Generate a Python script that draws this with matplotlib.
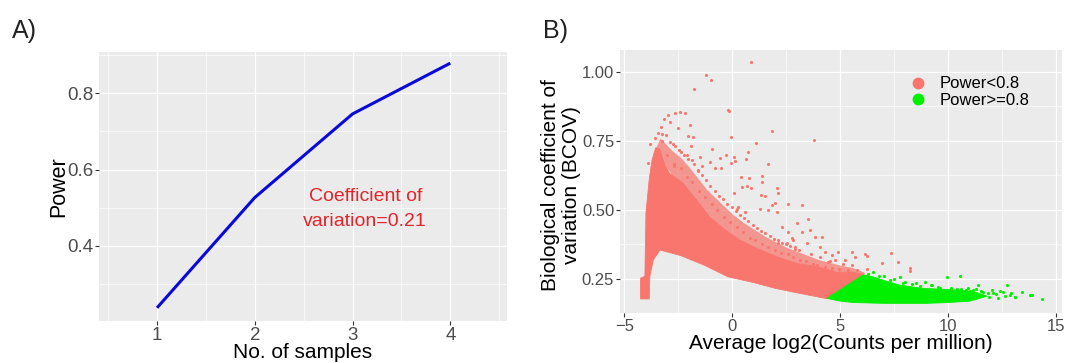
import matplotlib.pyplot as plt
from matplotlib.lines import Line2D
from matplotlib.ticker import MultipleLocator

plt.rcParams['font.family'] = ['Liberation Sans', 'DejaVu Sans']

# ---- panel A: power curve ----
n_samples = [1, 2, 3, 4]
power = [0.238, 0.527, 0.746, 0.879]

# ---- panel B: BCOV vs average log2 CPM ----
# solid part of the Power<0.8 cloud (outline)
low_cloud_x = [-4.25, -4.25, -4.05, -4.0, -3.85, -3.72, -3.55, -3.35, -3.1, -2.9,
               -2.27, -1.65, -1.04, -0.42, 0.35, 1.13, 2.05, 2.98, 3.90, 4.83,
               5.5, 6.1, 4.37, 3.0, 2.0, 1.0, -0.2, -1.3, -2.4, -3.35, -3.66,
               -3.82, -3.85]
low_cloud_y = [0.178, 0.253, 0.26, 0.49, 0.61, 0.68, 0.725, 0.72, 0.66, 0.632,
               0.596, 0.536, 0.475, 0.433, 0.391, 0.361, 0.331, 0.307, 0.295, 0.275,
               0.275, 0.267, 0.179, 0.200, 0.216, 0.237, 0.258, 0.30, 0.335, 0.355,
               0.319, 0.26, 0.178]

# looser, speckled band on top of the solid cloud (top edge, left to right)
band_x = [-3.55, -3.35, -3.1, -2.8, -2.4, -2.0, -1.6, -1.2, -0.8, -0.4, 0.0,
          0.5, 1.0, 1.5, 2.0, 2.5, 3.0, 3.5, 4.0, 4.5, 5.0, 5.5, 6.1]
band_top = [0.725, 0.76, 0.74, 0.715, 0.69, 0.655, 0.615, 0.575, 0.545, 0.515,
            0.485, 0.455, 0.43, 0.405, 0.385, 0.365, 0.35, 0.335, 0.32, 0.31,
            0.30, 0.293, 0.275]
band_base = [0.725, 0.72, 0.66, 0.627, 0.603, 0.57, 0.531, 0.491, 0.458, 0.432,
             0.41, 0.385, 0.366, 0.348, 0.333, 0.319, 0.307, 0.301, 0.293, 0.282,
             0.275, 0.275, 0.267]

# solid part of the Power>=0.8 cloud (outline)
high_cloud_x = [4.37, 5.0, 5.6, 7.0, 9.0, 10.0, 11.0, 11.8, 11.15, 10.07, 8.84,
                7.76, 7.0, 6.6, 6.06]
high_cloud_y = [0.180, 0.170, 0.165, 0.162, 0.162, 0.165, 0.170, 0.188, 0.205,
                0.212, 0.216, 0.228, 0.245, 0.256, 0.265]

# loose genes, Power<0.8
low_pts_x = [-1.22, -1.00, -1.78, -2.66, -2.43, -2.19, -2.89, -1.96, -2.52, -2.06,
             -1.82, -1.92, -0.94, -1.50, -1.04, -0.57, -0.53, -0.81, -0.20,
             0.86, -0.16, 1.82, -0.08, 3.78, 1.08, 0.72, -0.31, 0.07, 0.12,
             -0.06, 0.63, 1.63, 0.40, 0.77, 1.36, 1.38, 0.66, 0.86, 2.05, 0.43,
             2.10, 0.09, 1.32, 1.51, 2.59, 3.24, 1.82, 1.97, 1.66, 2.05, 1.28,
             0.27, 0.20, 0.58, 2.98, 3.51, 3.59, 2.59, 3.21, 3.82, 4.13, 2.75,
             2.13, 2.51, 2.90, 3.44, 4.06, 4.29, 4.60, 4.90, 5.52, 5.21, 4.44,
             4.75, 6.14, 6.22, 7.33, 6.91, 7.68, 8.22, 8.22, 5.68, 5.75, 6.22,
             -3.6, -3.45, -3.3, -3.15, -3.0, -3.25, -2.75, -2.4, -2.7, -1.6,
             -1.4, -2.1, -1.85, 2.8, 2.3, -3.8, -3.9,
             -3.24, -3.09, -2.91, -2.66, -2.45, -2.26, -2.05, -1.79, -1.59, -1.40,
             -1.21, -1.02, -0.82, -0.63, -0.43, -0.24, -0.04, 0.16, 0.35, 0.55,
             0.74, 0.94, 1.13, 1.33, 1.52, 1.72, 1.91, 2.11, 2.30, 2.50, 2.69,
             2.89, 3.08, 3.62, 4.05, 4.52, 5.12, 5.55,
             -3.03, -2.71, -2.39, -2.12, -1.86, -1.53, -1.27, -0.95, -0.69, -0.37,
             -0.11, 0.22, 0.48, 0.81, 1.07, 1.39, 1.65, 1.98, 2.24, 2.56, 2.82,
             3.15, 3.41, 3.71, 3.93, 4.27, 4.63, 4.95, 5.33]
low_pts_y = [0.988, 0.970, 0.937, 0.851, 0.854, 0.851, 0.818, 0.807, 0.796, 0.767,
             0.764, 0.731, 0.720, 0.691, 0.673, 0.688, 0.652, 0.652, 0.861,
             1.036, 0.858, 0.785, 0.765, 0.753, 0.743, 0.711, 0.699, 0.692, 0.677,
             0.670, 0.683, 0.666, 0.620, 0.614, 0.623, 0.601, 0.586, 0.579, 0.578,
             0.582, 0.562, 0.560, 0.554, 0.550, 0.520, 0.518, 0.518, 0.524, 0.500,
             0.493, 0.502, 0.512, 0.502, 0.493, 0.452, 0.466, 0.427, 0.421, 0.421,
             0.403, 0.401, 0.397, 0.379, 0.379, 0.367, 0.379, 0.367, 0.349, 0.337,
             0.349, 0.349, 0.319, 0.313, 0.319, 0.340, 0.333, 0.345, 0.307, 0.310,
             0.289, 0.280, 0.329, 0.283, 0.285,
             0.76, 0.78, 0.80, 0.83, 0.845, 0.75, 0.74, 0.71, 0.66, 0.64,
             0.66, 0.70, 0.68, 0.39, 0.44, 0.74, 0.67,
             0.775, 0.77, 0.745, 0.73, 0.715, 0.70, 0.685, 0.665, 0.645, 0.625,
             0.61, 0.585, 0.57, 0.55, 0.54, 0.52, 0.51, 0.495, 0.48, 0.47,
             0.46, 0.445, 0.435, 0.425, 0.415, 0.405, 0.395, 0.39, 0.38, 0.375,
             0.37, 0.36, 0.355, 0.34, 0.33, 0.315, 0.305, 0.30,
             0.70, 0.665, 0.65, 0.62, 0.60, 0.57, 0.545, 0.52, 0.50, 0.475,
             0.455, 0.44, 0.42, 0.40, 0.39, 0.375, 0.365, 0.355, 0.345, 0.34,
             0.33, 0.32, 0.315, 0.305, 0.30, 0.295, 0.29, 0.285, 0.283]

# loose genes, Power>=0.8
high_pts_x = [7.76, 8.92, 9.92, 10.54, 11.38, 12.70, 13.39, 13.86, 14.32, 11.61,
              11.85, 12.08, 12.54, 12.85, 13.08, 13.78, 9.23, 9.61, 10.92, 11.15,
              6.5, 7.0, 7.5, 8.0, 8.5, 9.2, 10.4, 10.8, 11.3, 12.0, 12.2, 12.4,
              12.6, 12.9, 13.1, 11.9, 12.3, 6.3, 6.8, 7.3, 7.9, 8.3, 8.7, 9.5,
              10.1, 10.6, 11.0, 11.5]
high_pts_y = [0.258, 0.240, 0.258, 0.261, 0.228, 0.228, 0.204, 0.192, 0.178, 0.204,
              0.198, 0.200, 0.204, 0.192, 0.186, 0.192, 0.228, 0.216, 0.216, 0.210,
              0.275, 0.26, 0.25, 0.24, 0.235, 0.228, 0.215, 0.21, 0.215, 0.21,
              0.195, 0.205, 0.19, 0.20, 0.185, 0.185, 0.183, 0.27, 0.262, 0.248,
              0.236, 0.232, 0.226, 0.222, 0.218, 0.214, 0.208, 0.205]

SALMON = '#F8766D'
GREEN = '#00F000'


def gg_style(ax, tick_fs):
    ax.set_facecolor('#EBEBEB')
    for s in ax.spines.values():
        s.set_visible(False)
    ax.grid(which='major', color='white', lw=0.9)
    ax.grid(which='minor', color='white', lw=0.45)
    ax.set_axisbelow(True)
    ax.tick_params(which='major', length=2.75, width=0.8, color='#333333',
                   labelcolor='#4D4D4D', labelsize=tick_fs, pad=1.5)
    ax.tick_params(which='minor', length=0)


fig = plt.figure(figsize=(10.65, 3.63), dpi=100)

# ---------- A ----------
axA = fig.add_axes([0.093, 0.1157, 0.3828, 0.7419])
gg_style(axA, 13.5)
axA.plot(n_samples, power, color='#0A0AD8', lw=2.2, solid_capstyle='butt')
axA.set_xlim(0.407, 4.577)
axA.set_ylim(0.2035, 0.909)
axA.set_xticks([1, 2, 3, 4])
axA.set_yticks([0.4, 0.6, 0.8])
axA.xaxis.set_minor_locator(MultipleLocator(0.5))
axA.yaxis.set_minor_locator(MultipleLocator(0.1))
axA.text(3.13, 0.497, 'Coefficient of\nvariation=0.21', color='#E3242B',
         fontsize=14, ha='center', va='center', linespacing=1.6)
axA.set_xlabel('No. of samples', fontsize=15, color='black')
axA.xaxis.set_label_coords(0.5, -0.118)
axA.xaxis.label.set_va('center')
axA.set_ylabel('Power', fontsize=15.5, color='black')
axA.yaxis.set_label_coords(-0.10, 0.5)
axA.yaxis.label.set_va('center')
fig.text(0.011, 0.915, 'A)', fontsize=18, color='#222222', va='center')

# ---------- B ----------
axB = fig.add_axes([0.5822, 0.1369, 0.415, 0.7253])
gg_style(axB, 12)
axB.fill_between(band_x, band_base, band_top, color=SALMON, alpha=0.72, lw=0)
axB.fill(low_cloud_x, low_cloud_y, color=SALMON, lw=0.6, ec=SALMON)
axB.scatter(low_pts_x, low_pts_y, s=5, color=SALMON, lw=0)
axB.fill(high_cloud_x, high_cloud_y, color=GREEN, lw=0.6, ec=GREEN)
axB.scatter(high_pts_x, high_pts_y, s=5, color=GREEN, lw=0)
axB.set_xlim(-5.2, 15.26)
axB.set_ylim(0.126, 1.0785)
axB.set_xticks([-5, 0, 5, 10, 15])
axB.set_yticks([0.25, 0.5, 0.75, 1.0])
axB.set_yticklabels(['0.25', '0.50', '0.75', '1.00'])
axB.xaxis.set_minor_locator(MultipleLocator(2.5))
axB.yaxis.set_minor_locator(MultipleLocator(0.125))
axB.set_xlabel('Average log2(Counts per million)', fontsize=15, color='black')
axB.xaxis.set_label_coords(0.5, -0.113)
axB.xaxis.label.set_va('center')
axB.set_ylabel('Biological coefficient of\nvariation (BCOV)', fontsize=15,
               color='black', linespacing=1.15)
axB.yaxis.set_label_coords(-0.1335, 0.487)
axB.yaxis.label.set_va('center')
handles = [Line2D([], [], ls='', marker='o', ms=7.5, color=SALMON),
           Line2D([], [], ls='', marker='o', ms=7.5, color=GREEN)]
axB.legend(handles, ['Power<0.8', 'Power>=0.8'], loc='upper left',
           bbox_to_anchor=(0.655, 0.90), frameon=False, fontsize=12,
           handlelength=1.0, handletextpad=0.8, labelspacing=0.1,
           borderpad=0, borderaxespad=0)
fig.text(0.51, 0.915, 'B)', fontsize=18, color='#222222', va='center')

fig.savefig('out.png', dpi=100)
